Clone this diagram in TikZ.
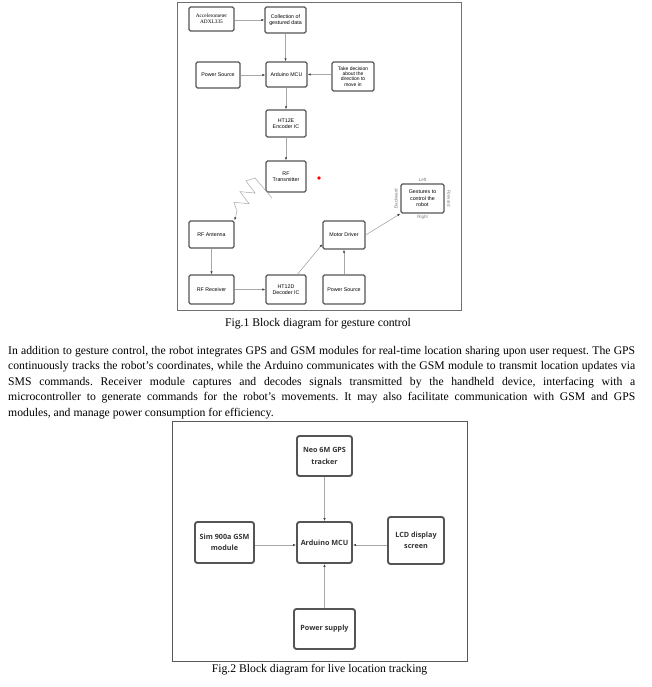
\documentclass[tikz,border=0pt]{standalone}
\usepackage{fontspec}
\setmainfont{Liberation Serif}
\setsansfont{Liberation Sans}
\newfontfamily\opensans{Open Sans}
\usetikzlibrary{arrows.meta,calc}
\definecolor{boxgray}{HTML}{555555}
\definecolor{framegray}{HTML}{707070}
\definecolor{conngray}{HTML}{A8A8A8}
\definecolor{tipgray}{HTML}{404040}
\definecolor{labgray}{HTML}{7A7A7A}
\frenchspacing
\begin{document}
\begin{tikzpicture}[x=1pt,y=-1pt,
  boxA/.style={draw=boxgray, line width=1.35pt, rounded corners=1.5pt, fill=white, align=center, inner sep=0pt, font=\sffamily\fontsize{5.3}{6.4}\selectfont, text=black},
  boxB/.style={draw=boxgray, line width=1.9pt, rounded corners=2.5pt, fill=white, align=center, inner sep=0pt, font=\opensans\bfseries\fontsize{7.2}{11.5}\selectfont, text=black!80},
  conn/.style={draw=conngray, line width=0.6pt, -{Latex[length=3pt,width=2.4pt,color=tipgray]}},
  frame/.style={draw=framegray, line width=1pt},
  dirlab/.style={font=\sffamily\fontsize{4.5}{5}\selectfont, text=labgray, inner sep=0pt},
  para/.style={anchor=base west, inner sep=0pt, font=\fontsize{11.7}{14}\selectfont},
  figcap/.style={anchor=base, inner sep=0pt, font=\fontsize{11.7}{14}\selectfont}
]
\useasboundingbox (0,0) rectangle (651,687);
\fill[white] (0,0) rectangle (651,687);

% ---------- Figure 1 ----------
\draw[frame] (177,3) rectangle (461,310);

\node[boxA, minimum width=45pt, minimum height=24pt, font=\rmfamily\fontsize{5.3}{6.2}\selectfont] (acc) at (211.5,19) {Accelerometer\\ADXL335};
\node[boxA, minimum width=41pt, minimum height=26pt] (coll) at (285.5,20) {Collection of\\gestured data};
\node[boxA, minimum width=44pt, minimum height=26pt] (pw1) at (218,75) {Power Source};
\node[boxA, minimum width=41pt, minimum height=25pt] (ard1) at (286.5,74.5) {Arduino MCU};
\node[boxA, minimum width=42pt, minimum height=29pt, font=\sffamily\fontsize{5}{5.2}\selectfont] (dec) at (353,76.5) {Take decision\\about the\\direction to\\move in};
\node[boxA, minimum width=40pt, minimum height=27pt] (enc) at (286,123.5) {HT12E\\Encoder IC};
\node[boxA, minimum width=40pt, minimum height=31pt] (tx) at (286,176.5) {RF\\Transmitter};
\node[boxA, minimum width=45pt, minimum height=27pt] (ant) at (211.5,234.5) {RF Antenna};
\node[boxA, minimum width=42pt, minimum height=28pt] (mot) at (344,235) {Motor Driver};
\node[boxA, minimum width=43pt, minimum height=29pt] (ges) at (422.5,198.5) {Gestures to\\control the\\robot};
\node[boxA, minimum width=45pt, minimum height=29pt] (rx) at (211.5,289.5) {RF Receiver};
\node[boxA, minimum width=40pt, minimum height=29pt] (dec2) at (286,289.5) {HT12D\\Decoder IC};
\node[boxA, minimum width=42pt, minimum height=29pt] (pw2) at (344,289.5) {Power Source};

\node[dirlab] (lleft) at (422.5,179.5) {Left};
\node[dirlab] (lright) at (422.5,217.5) {Right};
\node[dirlab, rotate=90] (lback) at (396,198.5) {Backward};
\node[dirlab, rotate=-90] (lfwd) at (449,198.5) {Forward};

\fill[red] (319,178) circle (1.9);

\draw[conn] (acc.east |- coll) -- (coll.west);
\draw[conn] (coll.south) -- (coll.south |- ard1.north);
\draw[conn] (pw1.east) -- (pw1.east -| ard1.west);
\draw[conn] (dec.west |- ard1) -- (ard1.east);
\draw[conn] (ard1.south -| enc) -- (enc.north);
\draw[conn] (enc.south) -- (tx.north);
\coordinate (zz) at (272,198);
\draw[conn, line width=0.5pt] (zz) -- (255,178) -- (245.9,180.9) -- (255.1,193.1) -- (239.9,191.6) -- (249.1,203.7) -- (233.9,202.3) -- (237,211) -- (ant.north east);
\draw[conn] (ant.south) -- (rx.north);
\draw[conn] (rx.east) -- (dec2.west);
\draw[conn] (dec2.53) -- (mot.203);
\draw[conn] (pw2.north) -- (mot.south);
\draw[conn] (mot.east) -- (ges.south west);

\node[figcap] (cap1) at (318,326.5) {Fig.1 Block diagram for gesture control};

% ---------- Paragraph ----------
\node[para] (l1) at (8,354) {\makebox[627pt][s]{In addition to gesture control, the robot integrates GPS and GSM modules for real-time location sharing upon user request. The GPS}};
\node[para] (l2) at (8,369.5) {\makebox[627pt][s]{continuously tracks the robot's coordinates, while the Arduino communicates with the GSM module to transmit location updates via}};
\node[para] (l3) at (8,385) {\makebox[627pt][s]{SMS commands. Receiver module captures and decodes signals transmitted by the handheld device, interfacing with a}};
\node[para] (l4) at (8,400.5) {\makebox[627pt][s]{microcontroller to generate commands for the robot's movements. It may also facilitate communication with GSM and GPS}};
\node[para] (l5) at (8,416) {modules, and manage power consumption for efficiency.};

% ---------- Figure 2 ----------
\draw[frame, draw=black!65] (172,421) rectangle (467,661);

\node[boxB, minimum width=55pt, minimum height=40pt] (gps) at (324.5,456) {Neo 6M GPS\\tracker};
\node[boxB, minimum width=59pt, minimum height=41pt] (sim) at (224.5,542.5) {Sim 900a GSM\\module};
\node[boxB, minimum width=55pt, minimum height=41pt] (ard2) at (324.5,542.5) {Arduino MCU};
\node[boxB, minimum width=56pt, minimum height=47pt] (lcd) at (416,540.5) {LCD display\\screen};
\node[boxB, minimum width=61pt, minimum height=40pt] (pwr) at (324.5,629) {Power supply};

\draw[conn] (gps.south) -- (ard2.north);
\draw[conn] (sim.east |- 0,545) -- (ard2.west |- 0,545);
\draw[conn] (lcd.west |- 0,545) -- (ard2.east |- 0,545);
\draw[conn] (pwr.north) -- (ard2.south);

\node[figcap] (cap2) at (319.5,672.5) {Fig.2 Block diagram for live location tracking};
\end{tikzpicture}
\end{document}
